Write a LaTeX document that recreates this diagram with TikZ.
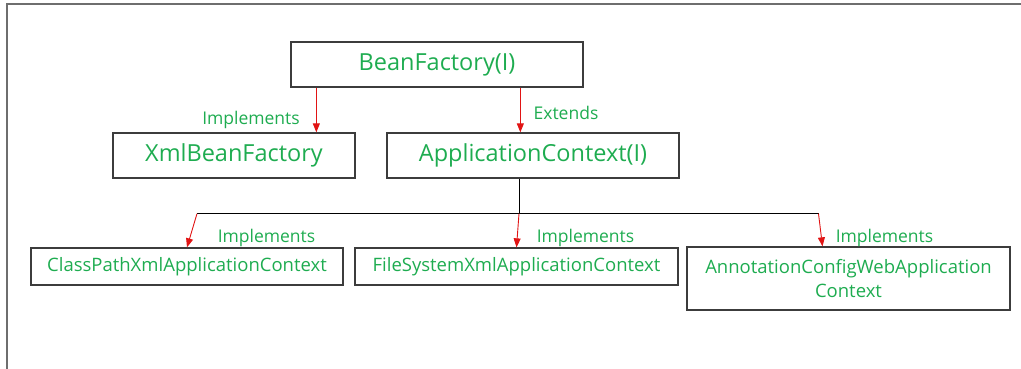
\documentclass[tikz,border=0pt]{standalone}
\usepackage{fontspec}
\setmainfont{Open Sans}
\usepackage{xcolor}
\usepackage{tikz}
\usetikzlibrary{arrows.meta,positioning,calc}

\definecolor{txtgreen}{RGB}{30,172,80}
\definecolor{arrred}{RGB}{225,20,20}
\definecolor{boxgray}{RGB}{60,60,60}
\definecolor{framegray}{RGB}{110,110,110}

\begin{document}
\begin{tikzpicture}[
  x=1pt, y=-1pt,
  box/.style={draw=boxgray, line width=1.3pt, text=txtgreen, inner sep=0pt, align=center},
  bigbox/.style={box, minimum height=45pt, font=\fontsize{23.5}{28}\selectfont},
  smallbox/.style={box, minimum height=37pt, font=\fontsize{18.5}{24}\selectfont},
  lbl/.style={text=txtgreen, inner sep=0pt, font=\fontsize{17.5}{20}\selectfont},
  arr/.style={-{Triangle[length=9pt, width=7pt]}, arrred, line width=0.9pt},
  link/.style={black, line width=1pt}
]
\useasboundingbox (0,0) rectangle (1021,369);
% page frame
\draw[framegray, line width=2pt] (7,369) -- (7,4.5) -- (1021,4.5);

% top two levels
\node[bigbox, minimum width=292pt] (bean) at (437,64.5) {BeanFactory(I)};
\node[bigbox, minimum width=242pt] (xml) at (234,155.5) {XmlBeanFactory};
\node[bigbox, minimum width=292pt] (appctx) at (533,155.5) {ApplicationContext(I)};

\draw[arr] ([xshift=26]bean.south west) -- ([xshift=26]bean.south west |- xml.north);
\draw[arr] ([xshift=230]bean.south west) -- ([xshift=230]bean.south west |- appctx.north);
\node[lbl] (implxml) at (251,120) {Implements};
\node[lbl] (extapp) at (566,113) {Extends};

% implementations
\node[smallbox, minimum width=312pt] (classpath) at (187,266.5) {ClassPathXmlApplicationContext};
\node[smallbox, minimum width=323pt] (filesys) at (516.5,266.5) {FileSystemXmlApplicationContext};
\node[smallbox, minimum width=323pt, minimum height=63pt] (annot) at (848.5,278.5) {AnnotationConfigWebApplication\\Context};

\draw[link] ([xshift=-14]appctx.south) -- ++(0,35) coordinate (mid);
\coordinate (left) at ([xshift=10]classpath.north |- mid);
\coordinate (right) at ([xshift=-30]annot.north |- mid);
\draw[link] (left) -- (right);
\draw[arr] (left) -- (classpath.north);
\draw[arr] (mid) -- (filesys.north);
\draw[arr] (right) -- ([xshift=-26]annot.north);

\node[lbl] (implcp) at (266.5,237.5) {Implements};
\node[lbl] (implfs) at (585.5,237.5) {Implements};
\node[lbl] (implan) at (884.5,237.5) {Implements};
\end{tikzpicture}
\end{document}
